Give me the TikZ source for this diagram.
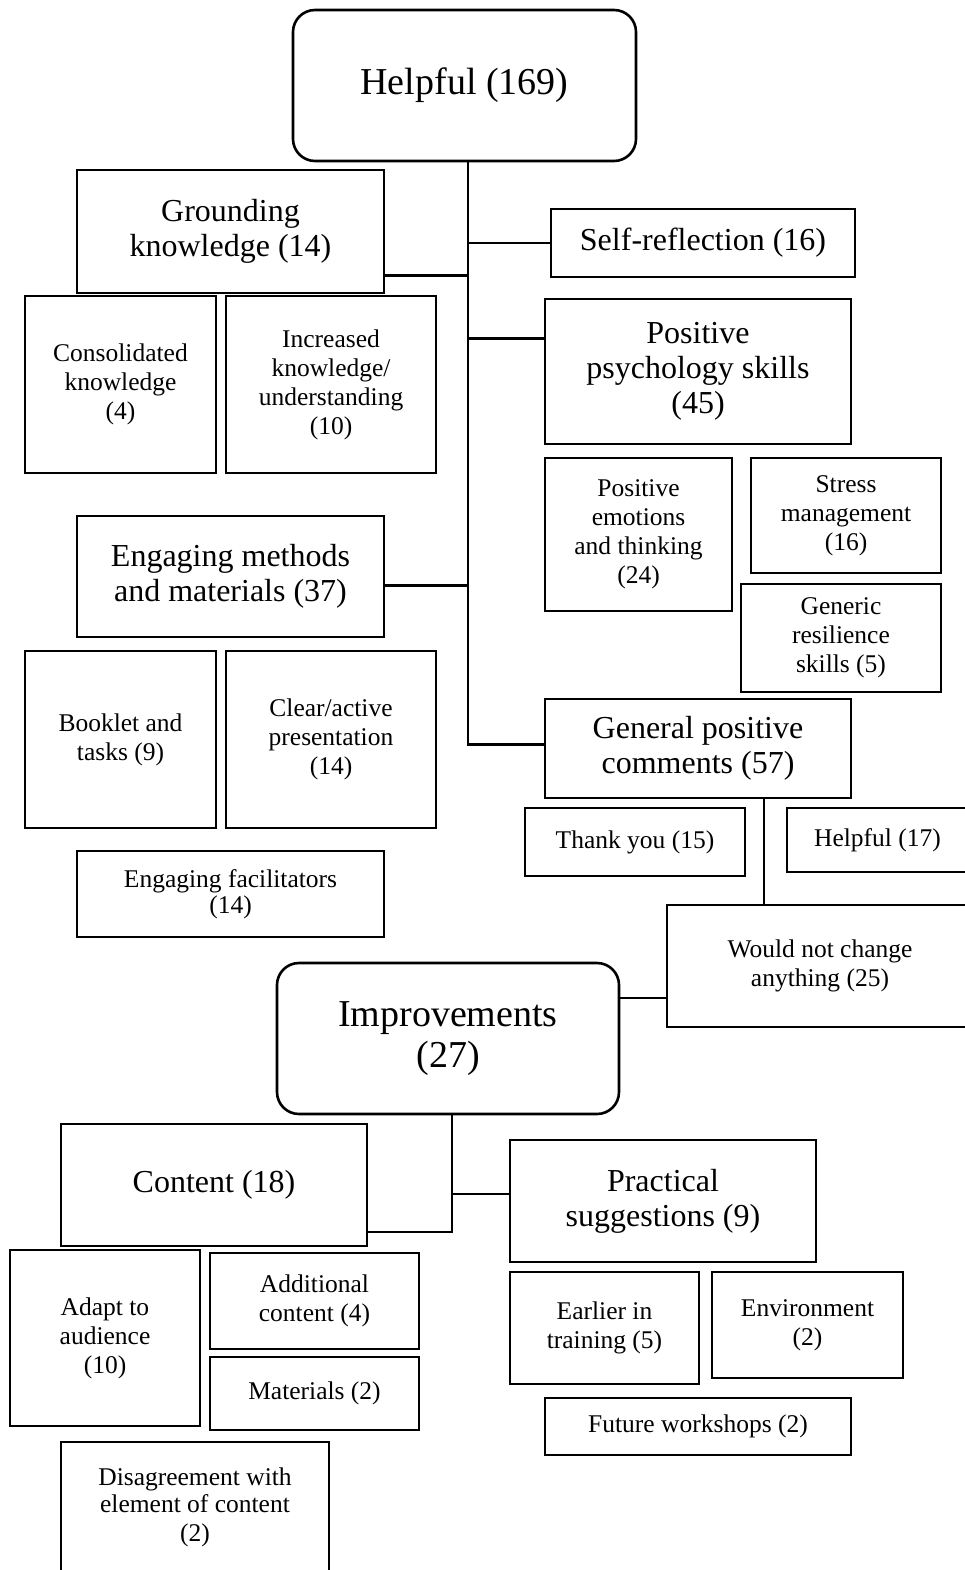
\documentclass[tikz,border=0pt]{standalone}
\usepackage{fontspec}
\setmainfont{Liberation Serif}

\begin{document}
\begin{tikzpicture}[x=1pt,y=-1pt,line width=2.6pt,
  topbox/.style={draw,rounded corners=22pt,align=center,inner sep=0pt,font=\fontsize{38}{41}\selectfont},
  midbox/.style={draw,align=center,inner sep=0pt,font=\fontsize{32}{35}\selectfont},
  smallbox/.style={draw,align=center,inner sep=0pt,font=\fontsize{25.5}{29}\selectfont}]

\useasboundingbox (0,0) rectangle (964,1570);

% Helpful
\node[topbox,minimum width=343pt,minimum height=151pt] (help) at (464.5,85.5) {Helpful (169)};

\node[midbox,minimum width=307pt,minimum height=123pt] (ground) at (230.5,231.5) {Grounding\\knowledge (14)};
\node[smallbox,minimum width=191pt,minimum height=177pt] (consol) at (120.5,384.5) {Consolidated\\knowledge\\(4)};
\node[smallbox,minimum width=210pt,minimum height=177pt] (incr) at (331,384.5) {Increased\\knowledge/\\understanding\\(10)};

\node[midbox,minimum width=304pt,minimum height=68pt] (self) at (703,243) {Self-reflection (16)};

\node[midbox,minimum width=306pt,minimum height=145pt] (pps) at (698,371.5) {Positive\\psychology skills\\(45)};
\node[smallbox,minimum width=187pt,minimum height=153pt] (emot) at (638.5,534.5) {Positive\\emotions\\and thinking\\(24)};
\node[smallbox,minimum width=190pt,minimum height=115pt] (stress) at (846,515.5) {Stress\\management\\(16)};
\node[smallbox,minimum width=200pt,minimum height=108pt] (resil) at (841,638) {Generic\\resilience\\skills (5)};

\node[midbox,minimum width=307pt,minimum height=121pt] (eng) at (230.5,576.5) {Engaging methods\\and materials (37)};
\node[smallbox,minimum width=191pt,minimum height=177pt] (booklet) at (120.5,739.5) {Booklet and\\tasks (9)};
\node[smallbox,minimum width=210pt,minimum height=177pt] (clear) at (331,739.5) {Clear/active\\presentation\\(14)};
\node[smallbox,minimum width=307pt,minimum height=86pt] (facil) at (230.5,894) {Engaging facilitators\\[-3pt](14)};

\node[midbox,minimum width=306pt,minimum height=99pt] (gpc) at (698,748.5) {General positive\\comments (57)};
\node[smallbox,minimum width=220pt,minimum height=68pt] (thanks) at (635,842) {Thank you (15)};
\node[smallbox,minimum width=181pt,minimum height=64pt] (helpful) at (877.5,840) {Helpful (17)};
\node[smallbox,minimum width=306pt,minimum height=122pt] (wnc) at (820,966) {Would not change\\anything (25)};

\coordinate (helpfoot) at ([xshift=3.5pt]help.south);
\draw (helpfoot) |- ([yshift=4pt]gpc.west);
\draw (self.west) -| (helpfoot);
\draw ([yshift=-44pt]ground.east) -| (helpfoot);
\draw ([yshift=33pt]pps.west) -| (helpfoot);
\draw ([yshift=-9pt]eng.east) -| (helpfoot);

\coordinate (gpcfoot) at ([xshift=66pt]gpc.south);
\draw (gpcfoot) -- (gpcfoot |- wnc.north);

% Improvements
\node[topbox,minimum width=342pt,minimum height=151pt] (impr) at (448,1038.5) {Improvements\\(27)};

\node[midbox,minimum width=306pt,minimum height=122pt] (content) at (214,1185) {Content (18)};
\node[smallbox,minimum width=190pt,minimum height=176pt] (adapt) at (105,1338) {Adapt to\\audience\\(10)};
\node[smallbox,minimum width=209pt,minimum height=96pt] (addit) at (314.5,1301) {Additional\\content (4)};
\node[smallbox,minimum width=209pt,minimum height=73pt] (mater) at (314.5,1393.5) {Materials (2)};
\node[smallbox,minimum width=268pt,minimum height=130pt] (disag) at (195,1507) {Disagreement with\\[-2pt]element of content\\(2)};

\node[midbox,minimum width=306pt,minimum height=122pt] (prac) at (663,1201) {Practical\\suggestions (9)};
\node[smallbox,minimum width=189pt,minimum height=112pt] (earlier) at (604.5,1328) {Earlier in\\training (5)};
\node[smallbox,minimum width=191pt,minimum height=106pt] (envir) at (807.5,1325) {Environment\\(2)};
\node[smallbox,minimum width=306pt,minimum height=57pt] (future) at (698,1426.5) {Future workshops (2)};

\coordinate (wncjoin) at ([yshift=-32pt]wnc.west);
\draw (wncjoin) -- (wncjoin -| impr.east);

\coordinate (imprfoot) at ([xshift=4pt]impr.south);
\draw (imprfoot) |- ([yshift=-47pt]content.east);
\draw ([yshift=7pt]prac.west) -| (imprfoot);

\end{tikzpicture}
\end{document}
